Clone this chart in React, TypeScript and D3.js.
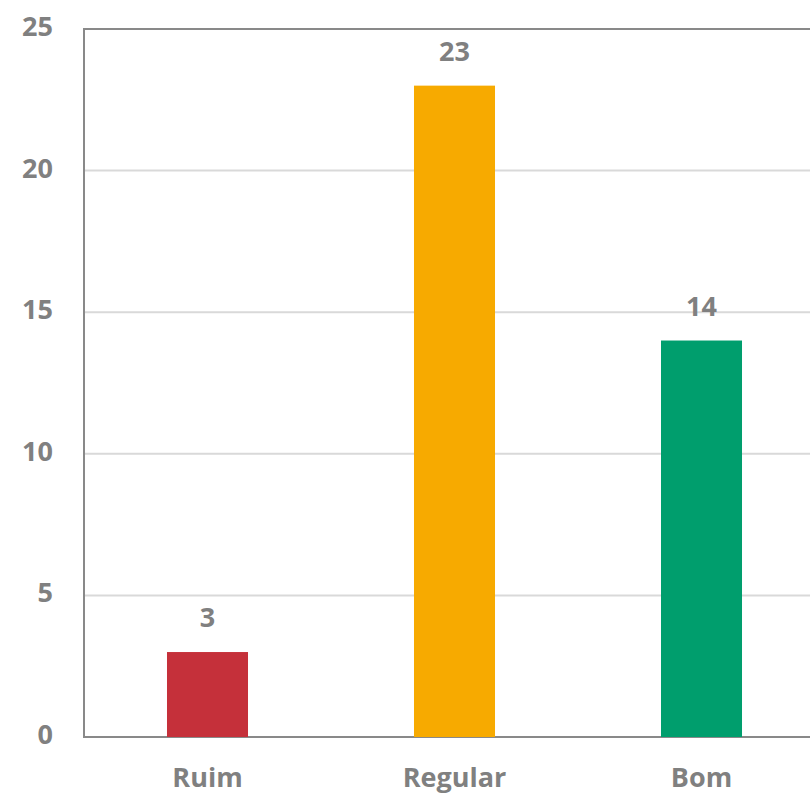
import React from "react";
import * as d3 from "d3";

const categories = ["Ruim", "Regular", "Bom"];
const values = [3, 23, 14];
const barColors = ["#C5303A", "#F7AA00", "#009E6D"];
const yTicks = [0, 5, 10, 15, 20, 25];

const W = 810;
const H = 797;
const left = 84;
const top = 29;
const bottom = 737;
const textColor = "#808080";
const font = "'Open Sans', 'Noto Sans', sans-serif";
const fontSize = 27;

export default function App() {
  const y = d3.scaleLinear().domain([0, 25]).range([bottom, top]);
  const x = d3
    .scaleBand<string>()
    .domain(categories)
    .range([left, left + 741])
    .paddingInner(0.672)
    .paddingOuter(0.336);

  return (
    <svg
      width={W}
      height={H}
      style={{ position: "absolute", left: 0, top: 0, background: "#fff" }}
    >
      {/* horizontal gridlines */}
      {yTicks
        .filter((t) => t > 0 && t < 25)
        .map((t) => (
          <line
            key={"g" + t}
            x1={left}
            x2={W}
            y1={y(t)}
            y2={y(t)}
            stroke="#D9D9D9"
            strokeWidth={2}
          />
        ))}
      {/* plot frame: top, left, bottom */}
      <line x1={left} x2={W} y1={y(25)} y2={y(25)} stroke="#898989" strokeWidth={2} />
      <line x1={left} x2={W} y1={y(0)} y2={y(0)} stroke="#898989" strokeWidth={2} />
      <line x1={left} x2={left} y1={y(25) - 1} y2={y(0) + 1} stroke="#898989" strokeWidth={2} />

      {/* y tick labels */}
      {yTicks.map((t) => (
        <text
          key={"t" + t}
          x={53}
          y={y(t) + 7}
          textAnchor="end"
          fontFamily={font}
          fontWeight={700}
          fontSize={fontSize}
          fill={textColor}
        >
          {t}
        </text>
      ))}

      {/* bars */}
      {categories.map((c, i) => (
        <rect
          key={"b" + c}
          x={x(c)!}
          y={y(values[i])}
          width={x.bandwidth()}
          height={y(0) - y(values[i])}
          fill={barColors[i]}
        />
      ))}

      {/* value labels */}
      {categories.map((c, i) => (
        <text
          key={"v" + c}
          x={x(c)! + x.bandwidth() / 2}
          y={y(values[i]) - 25}
          textAnchor="middle"
          fontFamily={font}
          fontWeight={700}
          fontSize={fontSize}
          fill={textColor}
        >
          {values[i]}
        </text>
      ))}

      {/* category labels */}
      {categories.map((c) => (
        <text
          key={"c" + c}
          x={x(c)! + x.bandwidth() / 2}
          y={787}
          textAnchor="middle"
          fontFamily={font}
          fontWeight={700}
          fontSize={fontSize}
          fill={textColor}
        >
          {c}
        </text>
      ))}
    </svg>
  );
}
